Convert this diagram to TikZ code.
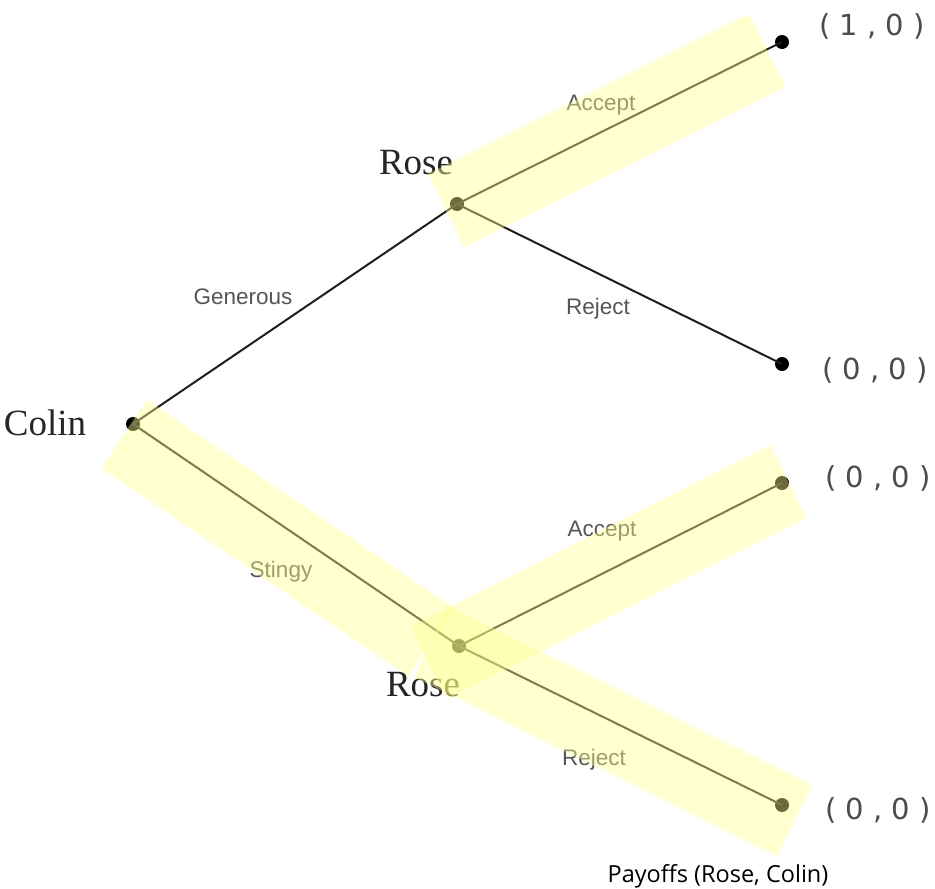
\documentclass[tikz,border=0pt]{standalone}
\usepackage{fontspec}
\setmainfont{Liberation Serif}
\newfontfamily\labfont{Liberation Sans}
\newfontfamily\payfont{DejaVu Sans}
\newfontfamily\capfont{Open Sans}
\definecolor{hilite}{RGB}{255,255,140}
\definecolor{linec}{RGB}{30,30,30}
\definecolor{labc}{RGB}{85,85,85}
\begin{document}
\begin{tikzpicture}[x=1pt,y=-1pt,
  dot/.style={circle,fill=black,inner sep=0pt,minimum size=14pt},
  edge/.style={draw=linec,line width=2pt},
  player/.style={font=\fontsize{37}{40}\selectfont,text=black!85,inner sep=0pt},
  elabel/.style={font=\labfont\fontsize{22.5}{26}\selectfont,text=labc,inner sep=0pt},
  payoff/.style={font=\payfont\fontsize{29}{32}\selectfont,text=black!70,inner sep=0pt},
  band/.style={fill=hilite,fill opacity=0.42,draw=none}]
\useasboundingbox (0,0) rectangle (935,889);
% nodes
\node[dot] (colin) at (133,424) {};
\node[dot] (roseA) at (457,204) {};
\node[dot] (roseB) at (459,646) {};
\node[dot] (l1) at (782,42) {};
\node[dot] (l2) at (782,364) {};
\node[dot] (l3) at (782,483) {};
\node[dot] (l4) at (782,805) {};
% edges
\draw[edge] (colin.center) -- (roseA.center);
\draw[edge] (colin.center) -- (roseB.center);
\draw[edge] (roseA.center) -- (l1.center);
\draw[edge] (roseA.center) -- (l2.center);
\draw[edge] (roseB.center) -- (l3.center);
\draw[edge] (roseB.center) -- (l4.center);
% player labels
\node[player] (tcolin) at (45,423) {Colin};
\node[player] (troseA) at (416,163) {Rose};
\node[player] (troseB) at (423,685) {Rose};
% edge labels
\node[elabel] (tgen) at (243,297) {Generous};
\node[elabel] (trejA) at (598,309) {Reject};
\node[elabel] (taccA) at (601,105) {Accept};
\node[elabel] (taccB) at (602,531) {Accept};
\node[elabel] (tsting) at (281,572) {Stingy};
\node[elabel] (trejB) at (594,760) {Reject};
% payoffs
\node[payoff] (p1) at (872,26) {( 1 , 0 )};
\node[payoff] (p2) at (875,370) {( 0 , 0 )};
\node[payoff] (p3) at (878,478) {( 0 , 0 )};
\node[payoff] (p4) at (878,810) {( 0 , 0 )};
\node[font=\capfont\fontsize{23.5}{27}\selectfont,text=black,inner sep=0pt] (cap) at (718,876) {Payoffs (Rose, Colin)};
% highlight bands
\fill[band] (428,174) -- (749,14) -- (785,87) -- (464,247) -- cycle;
\fill[band] (147,400) -- (454,608) -- (408,676) -- (101,468) -- cycle;
\fill[band] (410,627) -- (770,445) -- (806,518) -- (447,699) -- cycle;
\fill[band] (448,606) -- (812,785) -- (777,856) -- (414,677) -- cycle;
\end{tikzpicture}
\end{document}
